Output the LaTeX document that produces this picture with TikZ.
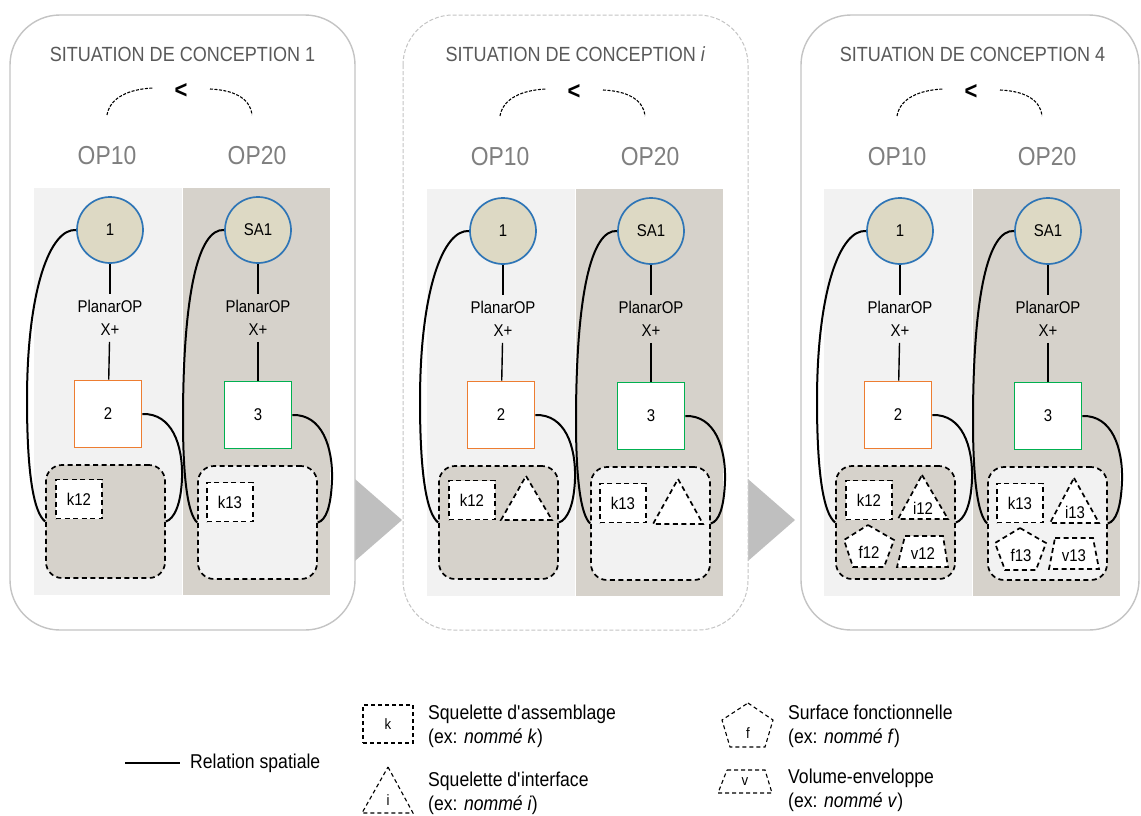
\documentclass[tikz,border=0pt]{standalone}
\usepackage{fontspec}
\setmainfont{Liberation Sans}[FakeStretch=0.88]
\usetikzlibrary{shapes.geometric}
\definecolor{colLight}{HTML}{F2F2F2}
\definecolor{colDark}{HTML}{D6D2CB}
\definecolor{circFill}{HTML}{DDD9C4}
\definecolor{circBlue}{HTML}{2E75B6}
\definecolor{sqOrange}{HTML}{ED7D31}
\definecolor{sqGreen}{HTML}{00B050}
\definecolor{panelGray}{HTML}{C4C4C4}
\definecolor{arrowGray}{HTML}{BFBFBF}
\definecolor{titleGray}{HTML}{595959}
\definecolor{opGray}{HTML}{7F7F7F}
\tikzset{
  panelbox/.style={draw=panelGray, line width=1.4pt, fill=white, rounded corners=50pt},
  panelboxdash/.style={draw=panelGray, line width=1pt, fill=white, rounded corners=50pt, dash pattern=on 4pt off 2pt},
  titlestyle/.style={font=\fontsize{20.5}{24}\selectfont, text=titleGray, inner sep=0pt},
  optitle/.style={font=\fontsize{26}{30}\selectfont, text=opGray, inner sep=0pt},
  ltsign/.style={font=\bfseries\fontsize{25}{28}\selectfont, inner sep=0pt},
  arcdash/.style={draw=black, line width=1.1pt, dash pattern=on 3pt off 1.5pt},
  circnode/.style={circle, draw=circBlue, fill=circFill, line width=1.7pt, minimum size=66pt, inner sep=0pt, font=\fontsize{17}{20}\selectfont},
  sqnode/.style={rectangle, draw=#1, fill=white, line width=1.7pt, minimum size=67pt, inner sep=0pt, font=\fontsize{17}{20}\selectfont},
  optext/.style={align=center, font=\fontsize{17}{23}\selectfont, inner xsep=0pt, inner ysep=6pt},
  grpbox/.style={draw=black, line width=1.7pt, dash pattern=on 5pt off 3.5pt, rounded corners=16pt, minimum width=119pt, minimum height=113pt, inner sep=0pt},
  kbox/.style={draw=black, fill=white, line width=1.7pt, dash pattern=on 5pt off 3.5pt, minimum width=46pt, minimum height=39pt, inner sep=0pt, font=\fontsize{17}{20}\selectfont},
  shp/.style={draw=black, fill=white, line width=1.7pt, dash pattern=on 5pt off 3.5pt, line join=miter},
  lbl/.style={font=\fontsize{17}{20}\selectfont, inner sep=0pt},
  stem/.style={draw=black, line width=1.4pt},
  rel/.style={draw=black, line width=2pt},
  legshp/.style={draw=black, line width=1.1pt, dash pattern=on 4pt off 3pt},
  leglbl/.style={font=\fontsize{15}{18}\selectfont, inner sep=0pt},
  legtext/.style={align=left, font=\fontsize{20}{24}\selectfont, inner sep=0pt, anchor=west},
}
\newcommand\panelbody[1]{%
  \fill[colLight] (34,188) rectangle (182,595);
  \fill[colDark] (183,188) rectangle (330,595);
  \node[optitle] (#1op1) at (107,156) {OP10};
  \node[optitle] (#1op2) at (257,156) {OP20};
  \node[ltsign] (#1lt) at (181,91) {<};
  \draw[arcdash] (107,115) .. controls (110,97) and (130,89) .. (153,88);
  \draw[arcdash] (210,89) .. controls (232,90) and (250,97) .. (252,115);
  \node[circnode] (#1c1) at (110,230) {1};
  \node[circnode] (#1c2) at (258,230) {SA1};
  \node[optext] (#1t1) at (110,318) {PlanarOP\\X+};
  \node[optext] (#1t2) at (258,318) {PlanarOP\\X+};
  \node[sqnode=sqOrange] (#1s1) at (108,414) {2};
  \node[sqnode=sqGreen] (#1s2) at (258,415) {3};
  \node[grpbox, fill=colDark] (#1g1) at (105.5,521.5) {};
  \node[grpbox, fill=colLight] (#1g2) at (257.5,522.5) {};
  \node[kbox] (#1k1) at (79,499) {k12};
  \node[kbox] (#1k2) at (230,502) {k13};
  \draw[stem] (#1c1) -- (#1t1);
  \draw[stem] (#1t1) -- (#1s1);
  \draw[stem] (#1c2) -- (#1t2);
  \draw[stem] (#1t2) -- (#1s2);
  \draw[rel] (#1c1.west) .. controls (50,228) and (27,290) .. (27,400) .. controls (27,470) and (33,512) .. (#1g1.west);
  \draw[rel] (#1c2.west) .. controls (198,228) and (183,295) .. (183,420) .. controls (183,480) and (188,514) .. (#1g2.west);
  \draw[rel] (#1s1.east) .. controls (172,413) and (183,445) .. (182,478) .. controls (181,505) and (174,519) .. (#1g1.east);
  \draw[rel] (#1s2.east) .. controls (322,414) and (333,447) .. (332,480) .. controls (331,507) and (326,520) .. (#1g2.east);
}
\begin{document}
\begin{tikzpicture}[x=1pt,y=-1pt]
\useasboundingbox (0,0) rectangle (1141,815);
\fill[white] (0,0) rectangle (1141,815);
% transition arrows
\fill[arrowGray] (340,466) -- (402,520) -- (340,574) -- cycle;
\fill[arrowGray] (733,466) -- (795,520) -- (733,574) -- cycle;
% panels
\draw[panelbox] (10,15) rectangle (355,630);
\draw[panelboxdash] (403,15) rectangle (748,630);
\draw[panelbox] (801,15) rectangle (1139,630);
\node[titlestyle] (tA) at (182.5,54) {SITUATION DE CONCEPTION 1};
\node[titlestyle] (tB) at (575.5,54) {SITUATION DE CONCEPTION \textit{i}};
\node[titlestyle] (tC) at (972.5,54) {SITUATION DE CONCEPTION 4};
% panel 1
\begin{scope}
  \panelbody{A}
\end{scope}
% panel 2
\begin{scope}[shift={(393,1)}]
  \panelbody{B}
  \draw[shp] (133,475) -- (159,519) -- (108,519) -- cycle;
  \draw[shp] (285,478) -- (310,523) -- (260,523) -- cycle;
\end{scope}
% panel 3
\begin{scope}[shift={(790,1)}]
  \panelbody{C}
  \draw[shp] (132,474) -- (158,518) -- (108,518) -- cycle;
  \node[lbl] (Ci12) at (133,507) {i12};
  \draw[shp] (78,524) -- (104,539) -- (94,566) -- (63,566) -- (54,539) -- cycle;
  \node[lbl] (Cf12) at (79,551) {f12};
  \draw[shp] (115,535) -- (153,535) -- (158,566) -- (107,566) -- cycle;
  \node[lbl] (Cv12) at (133,553) {v12};
  \draw[shp] (284,477) -- (309,522) -- (260,522) -- cycle;
  \node[lbl] (Ci13) at (285,511) {i13};
  \draw[shp] (230,527) -- (256,542) -- (246,569) -- (215,569) -- (205,542) -- cycle;
  \node[lbl] (Cf13) at (231,554) {f13};
  \draw[shp] (265,537) -- (303,537) -- (309,568) -- (259,568) -- cycle;
  \node[lbl] (Cv13) at (284,555) {v13};
\end{scope}
% legend
\coordinate (la) at (125,763);
\coordinate (lb) at (180,763);
\draw[rel] (la) -- (lb);
\node[legtext] (lrel) at (190,763) {Relation spatiale};
\node[legshp, rectangle, minimum width=50pt, minimum height=38pt, inner sep=0pt] (lk) at (388,724) {};
\node[leglbl] (lkt) at (388,724) {k};
\node[legtext] (lktext) at (428,726) {Squelette d\textquotesingle assemblage\\(ex: \textit{nommé k})};
\draw[legshp] (388,767) -- (413,813) -- (362,813) -- cycle;
\node[leglbl] (lit) at (388,800) {i};
\node[legtext] (litext) at (428,793) {Squelette d\textquotesingle interface\\(ex: \textit{nommé i})};
\draw[legshp] (748,703) -- (773,720) -- (765,747) -- (730,747) -- (722,720) -- cycle;
\node[leglbl] (lft) at (748,733) {f};
\node[legtext] (lftext) at (788,726) {Surface fonctionnelle\\(ex: \textit{nommé f})};
\draw[legshp] (727,770) -- (765,770) -- (772,793) -- (718,793) -- cycle;
\node[leglbl] (lvt) at (745,782) {v};
\node[legtext] (lvtext) at (788,790) {Volume-enveloppe\\(ex: \textit{nommé v})};
\end{tikzpicture}
\end{document}
